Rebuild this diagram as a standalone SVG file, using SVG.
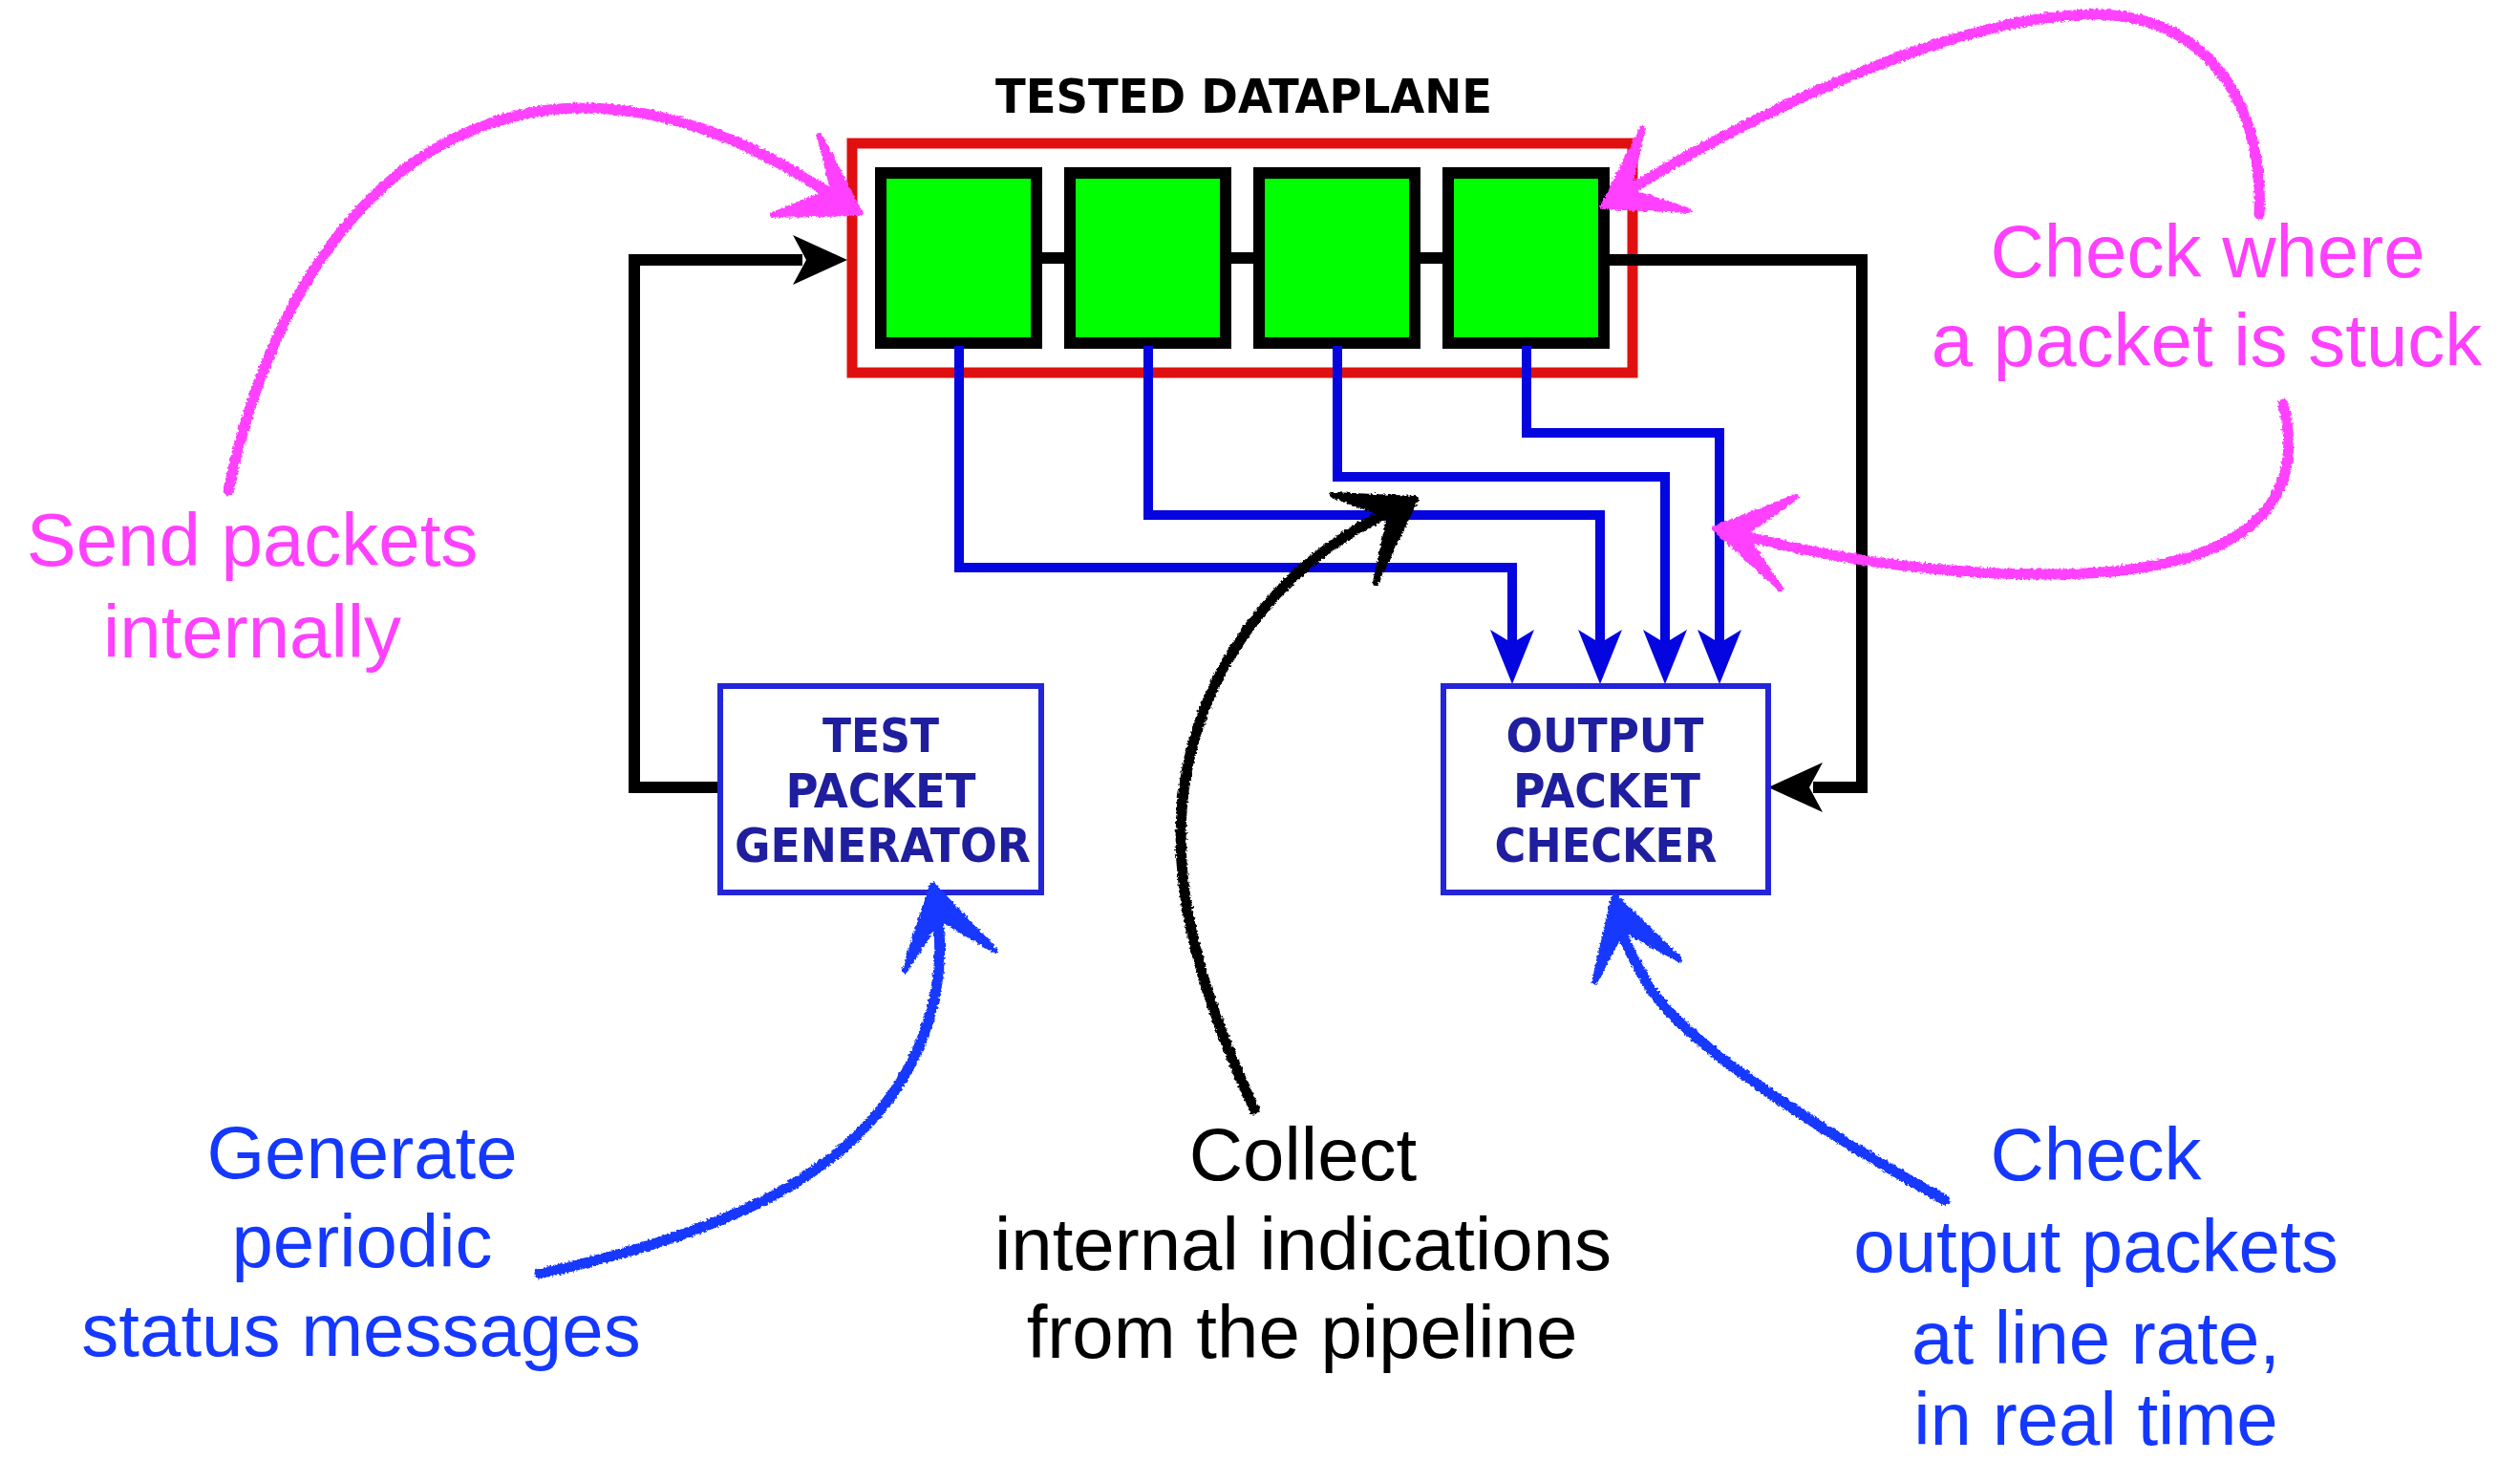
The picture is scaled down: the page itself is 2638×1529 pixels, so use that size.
<svg xmlns="http://www.w3.org/2000/svg" xmlns:xlink="http://www.w3.org/1999/xlink" width="2638" height="1529" viewBox="0 0 2638 1529">
<style>
.note{font-family:"Liberation Sans",Arial,Helvetica,sans-serif;font-size:78px;text-anchor:middle}
.pink{fill:#ff40ff}
.blue{fill:#1438ff}
.black{fill:#000}
.box{fill:#fff;stroke:#2424d8;stroke-width:6}
.boxtxt{font-family:"DejaVu Sans Condensed","DejaVu Sans",sans-serif;font-stretch:condensed;font-weight:bold;font-size:50px;fill:#1e1e9e;text-anchor:middle}
.stage{fill:#00ff00;stroke:#000;stroke-width:12}
.wireK{fill:none;stroke:#000;stroke-width:12}
.wireB{fill:none;stroke:#0505e0;stroke-width:10}
.sk{fill:none;stroke-width:11;stroke-linecap:round;stroke-linejoin:round}
.skh{stroke-width:6;stroke-linejoin:round}
</style>
<defs>
<filter id="rough" x="-5%" y="-5%" width="110%" height="110%">
<feTurbulence type="fractalNoise" baseFrequency="0.35" numOctaves="2" seed="3" result="n"/>
<feDisplacementMap in="SourceGraphic" in2="n" scale="5" xChannelSelector="R" yChannelSelector="G"/>
</filter>
<path id="ahDown" d="M0,0 L-23,-57 L0,-43 L23,-57 Z" fill="#0505e0"/>
<path id="ahRight" d="M0,0 L-57,-26 L-43,0 L-57,26 Z" fill="#000"/>
<path id="ahLeft" d="M0,0 L57,-26 L43,0 L57,26 Z" fill="#000"/>
</defs>
<rect width="2638" height="1529" fill="#fff"/>

<g id="dataplane">
<text x="1302" y="118" font-family="'DejaVu Sans Condensed','DejaVu Sans',sans-serif" font-stretch="condensed" font-weight="bold" font-size="50" text-anchor="middle" textLength="520" lengthAdjust="spacingAndGlyphs">TESTED DATAPLANE</text>
<rect x="892" y="150" width="817" height="240" fill="none" stroke="#e01010" stroke-width="11"/>
</g>

<g id="stages">
<path class="wireK" d="M1085,270 H1120 M1283,270 H1318 M1481,270 H1516"/>
<rect id="stage1" class="stage" x="922" y="181" width="163" height="178"/>
<rect id="stage2" class="stage" x="1120" y="181" width="163" height="178"/>
<rect id="stage3" class="stage" x="1318" y="181" width="163" height="178"/>
<rect id="stage4" class="stage" x="1516" y="181" width="163" height="178"/>
</g>

<g id="connectors">
<path class="wireK" d="M754,824 H664 V272 H840"/>
<use xlink:href="#ahRight" x="887" y="272"/>
<path class="wireK" d="M1685,272 H1949 V824 H1898"/>
<use xlink:href="#ahLeft" x="1851" y="824"/>
<path class="wireB" d="M1004,362 V594 H1583 V678"/>
<path class="wireB" d="M1202,362 V539 H1675 V678"/>
<path class="wireB" d="M1400,362 V499 H1743 V678"/>
<path class="wireB" d="M1598,362 V453 H1800 V678"/>
<use xlink:href="#ahDown" x="1583" y="716"/>
<use xlink:href="#ahDown" x="1675" y="716"/>
<use xlink:href="#ahDown" x="1743" y="716"/>
<use xlink:href="#ahDown" x="1800" y="716"/>
</g>

<g id="generator">
<rect class="box" x="754" y="718" width="336" height="216"/>
<text class="boxtxt" x="922" y="787" textLength="122" lengthAdjust="spacingAndGlyphs">TEST</text>
<text class="boxtxt" x="922" y="845" textLength="199" lengthAdjust="spacingAndGlyphs">PACKET</text>
<text class="boxtxt" x="924" y="902" textLength="310" lengthAdjust="spacingAndGlyphs">GENERATOR</text>
</g>

<g id="checker">
<rect class="box" x="1511" y="718" width="340" height="216"/>
<text class="boxtxt" x="1680" y="787" textLength="207" lengthAdjust="spacingAndGlyphs">OUTPUT</text>
<text class="boxtxt" x="1682" y="845" textLength="196" lengthAdjust="spacingAndGlyphs">PACKET</text>
<text class="boxtxt" x="1681" y="902" textLength="233" lengthAdjust="spacingAndGlyphs">CHECKER</text>
</g>

<g id="annotation-arrows" filter="url(#rough)">
<path class="sk" stroke="#ff40ff" d="M239,513 C280,320 380,150 560,117 C700,95 820,170 880,210"/>
<path class="skh" fill="#ff40ff" stroke="#ff40ff" d="M900,223 L858,142 L872,199 L809,225 Z"/>
<path class="sk" stroke="#ff40ff" d="M2365,224 C2370,120 2320,20 2200,15 C2060,12 1850,110 1695,205"/>
<path class="skh" fill="#ff40ff" stroke="#ff40ff" d="M1678,216 L1719,135 L1705,200 L1767,220 Z"/>
<path class="sk" stroke="#ff40ff" d="M2390,423 C2420,540 2330,600 2150,601 C2000,602 1880,575 1815,558"/>
<path class="skh" fill="#ff40ff" stroke="#ff40ff" d="M1795,553 L1880,520 L1825,559 L1864,616 Z"/>
<path class="sk" stroke="#000" d="M1313,1161 C1240,1000 1200,850 1280,700 C1330,610 1400,560 1462,532"/>
<path class="skh" fill="#000" stroke="#000" d="M1482,522 L1395,518 L1455,540 L1440,610 Z"/>
<path class="sk" stroke="#1438ff" d="M565,1333 C760,1290 900,1230 960,1100 C990,1030 985,980 980,945"/>
<path class="skh" fill="#1438ff" stroke="#1438ff" d="M976,926 L947,1016 L983,960 L1042,995 Z"/>
<path class="sk" stroke="#1438ff" d="M2036,1256 C1900,1180 1760,1090 1725,1030 C1705,995 1695,975 1692,955"/>
<path class="skh" fill="#1438ff" stroke="#1438ff" d="M1690,938 L1669,1028 L1699,972 L1758,1004 Z"/>
</g>

<g id="label-send">
<text class="note pink" x="264" y="592">Send packets</text>
<text class="note pink" x="264" y="688">internally</text>
</g>
<g id="label-stuck">
<text class="note pink" x="2311" y="290">Check where</text>
<text class="note pink" x="2310" y="383">a packet is stuck</text>
</g>
<g id="label-generate">
<text class="note blue" x="379" y="1233">Generate</text>
<text class="note blue" x="379" y="1326">periodic</text>
<text class="note blue" x="378" y="1419">status messages</text>
</g>
<g id="label-collect">
<text class="note black" x="1364" y="1235">Collect</text>
<text class="note black" x="1364" y="1329">internal indications</text>
<text class="note black" x="1363" y="1421">from the pipeline</text>
</g>
<g id="label-check">
<text class="note blue" x="2194" y="1235">Check</text>
<text class="note blue" x="2194" y="1331">output packets</text>
<text class="note blue" x="2194" y="1427">at line rate,</text>
<text class="note blue" x="2194" y="1512">in real time</text>
</g>
</svg>
